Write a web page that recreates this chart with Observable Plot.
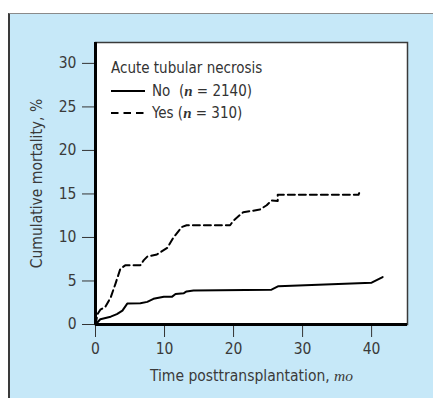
<!DOCTYPE html>
<html>
<head>
<meta charset="utf-8">
<script src="https://cdn.jsdelivr.net/npm/d3@7"></script>
<script src="https://cdn.jsdelivr.net/npm/@observablehq/plot@0.6"></script>
<style>
  html, body { margin: 0; padding: 0; background: #ffffff; }
  #wrap { position: relative; width: 433px; height: 398px; overflow: hidden;
    font-family: "DejaVu Sans Condensed", "Liberation Sans Narrow", sans-serif; }
  #panel { position: absolute; left: 8px; top: 13px; right: 0; bottom: 0;
    background: #c6e8f8; border-left: 2px solid #3a3a3a; border-top: 1px solid #8a8a8a; }
  #chart { position: absolute; left: 0; top: 0; }
  #legend { position: absolute; left: 111px; top: 57px; font-size: 15px; color: #333; }
  #legend .row { display: flex; align-items: center; height: 22.5px; }
  #legend svg { margin-right: 7px; }
  #legend i { font-family: "Liberation Serif", "DejaVu Serif", serif; font-weight: bold; }
</style>
</head>
<body>
<div id="wrap">
  <div id="panel"></div>
  <div id="chart"></div>
  <div id="legend"></div>
</div>
<script>
// Series: Acute tubular necrosis = No (n = 2140)
const noMonths = [0, 0.7, 2.2, 3.1, 3.9, 4.6, 6.5, 7.5, 8.4, 9.9, 11.1, 11.6, 12.8, 13.2, 14.2, 25.5, 26.5, 40, 41.6];
const noMortality = [0, 0.6, 0.9, 1.2, 1.6, 2.4, 2.45, 2.6, 2.95, 3.2, 3.2, 3.5, 3.6, 3.8, 3.9, 4.0, 4.4, 4.8, 5.45];
// Series: Acute tubular necrosis = Yes (n = 310)
const yesMonths = [0, 0.3, 0.7, 1.4, 2.2, 2.9, 3.6, 4.3, 6.5, 7.0, 7.5, 8.9, 10.4, 11.3, 12.5, 13.2, 19.5, 20.0, 21.4, 23.8, 24.8, 25.5, 26.4, 26.4, 38.1, 38.2];
const yesMortality = [0, 1.2, 1.7, 2.0, 3.1, 4.7, 6.4, 6.8, 6.8, 7.4, 7.8, 8.05, 8.8, 10.0, 11.2, 11.4, 11.4, 11.95, 12.9, 13.2, 13.7, 14.25, 14.2, 14.9, 14.9, 15.1];
const xTicks = [0, 10, 20, 30, 40];
const yTicks = [0, 5, 10, 15, 20, 25, 30];
const legendTitle = "Acute tubular necrosis";
const seriesNames = ["No", "Yes"];
const seriesN = ["2140", "310"];
const xLabel = "Time posttransplantation, ";
const xLabelUnit = "mo";
const yLabel = "Cumulative mortality, %";

const noData = noMonths.map((t, i) => ({t, v: noMortality[i]}));
const yesData = yesMonths.map((t, i) => ({t, v: yesMortality[i]}));

const chart = Plot.plot({
  width: 433,
  height: 398,
  marginLeft: 95,
  marginRight: 26,
  marginTop: 42,
  marginBottom: 74,
  style: {
    background: "transparent",
    fontFamily: '"DejaVu Sans Condensed", "Liberation Sans Narrow", sans-serif',
    fontSize: "15.5px",
    color: "#3a3a3a",
    overflow: "visible"
  },
  x: {domain: [0, 45.2]},
  y: {domain: [0, 32.4]},
  marks: [
    Plot.frame({fill: "white", stroke: "#3a3a3a", strokeWidth: 1.5}),
    Plot.axisX({ticks: xTicks, tickSize: 13, tickPadding: 5, stroke: "#333",
      label: xLabel + xLabelUnit, labelAnchor: "center", labelArrow: "none", labelOffset: 56}),
    Plot.axisY({ticks: yTicks, tickSize: 13, tickPadding: 6, stroke: "#333",
      label: yLabel, labelAnchor: "center", labelArrow: "none", labelOffset: 65}),
    Plot.ruleX([0], {stroke: "black", strokeWidth: 3}),
    Plot.ruleY([0], {stroke: "black", strokeWidth: 3}),
    Plot.line(noData, {x: "t", y: "v", stroke: "black", strokeWidth: 2}),
    Plot.line(yesData, {x: "t", y: "v", stroke: "black", strokeWidth: 2, strokeDasharray: "7,4"})
  ]
});
document.getElementById("chart").appendChild(chart);

// italicise the unit in the x-axis label
d3.select(chart).selectAll("text").each(function() {
  const el = d3.select(this);
  if (el.text() === xLabel + xLabelUnit) {
    el.text(null);
    el.append("tspan").text(xLabel);
    el.append("tspan").attr("font-style", "italic")
      .attr("font-family", '"Liberation Serif", "DejaVu Serif", serif').text(xLabelUnit);
  }
});

// legend
const leg = document.getElementById("legend");
const title = document.createElement("div");
title.className = "row";
title.textContent = legendTitle;
leg.appendChild(title);
seriesNames.forEach((name, i) => {
  const row = document.createElement("div");
  row.className = "row";
  const dash = i === 0 ? "" : 'stroke-dasharray="7.5,5"';
  row.innerHTML = `<svg width="34" height="6"><line x1="0" x2="34" y1="3" y2="3" stroke="black" stroke-width="2" ${dash}/></svg>` +
    `<span>${name}${i === 0 ? "&nbsp;" : ""} (<i>n</i> = ${seriesN[i]})</span>`;
  leg.appendChild(row);
});
</script>
</body>
</html>
